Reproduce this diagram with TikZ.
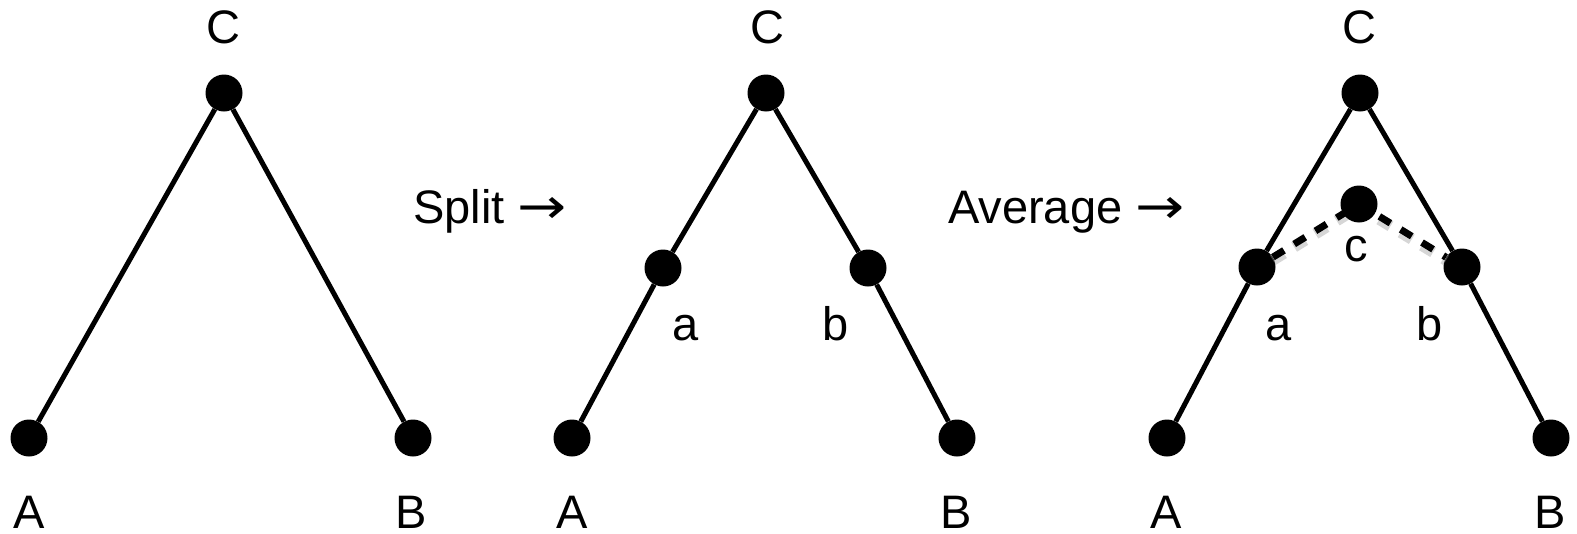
\documentclass[tikz,border=0pt]{standalone}
\usepackage{fontspec}
\setmainfont{Liberation Sans}
\newfontfamily\arrowfont{DejaVu Sans}
\newcommand{\rarr}{{\arrowfont\raisebox{0pt}{\scalebox{1.25}[1.05]{→}}}}
\begin{document}
\begin{tikzpicture}[x=1pt,y=-1pt,
  dot/.style={circle,fill=black,inner sep=0pt,minimum size=37pt},
  edge/.style={line width=5pt},
  avg/.style={line width=7pt,dash pattern=on 13pt off 12pt},
  shadowline/.style={line width=11pt,dash pattern=on 13pt off 12pt,black!40,opacity=0.4},
  lbl/.style={anchor=base,font=\fontsize{47}{56}\selectfont,inner sep=0pt}]
\useasboundingbox (0,0) rectangle (1577,533);
% tree 1
\node[dot] (C1) at (224,93) {};
\node[dot] (A1) at (29,438) {};
\node[dot] (B1) at (413,438) {};
\draw[edge] (C1) -- (A1);
\draw[edge] (C1) -- (B1);
\node[lbl] (lC1) at (223,43) {C};
\node[lbl] (lA1) at (29,528) {A};
\node[lbl] (lB1) at (411,528) {B};
% split text
\node[lbl,anchor=base west] (split) at (413,223) {Split \rarr};
% tree 2
\node[dot] (C2) at (766,93) {};
\node[dot] (a2) at (663,268) {};
\node[dot] (b2) at (868,268) {};
\node[dot] (A2) at (572,438) {};
\node[dot] (B2) at (957,438) {};
\draw[edge] (C2) -- (a2) -- (A2);
\draw[edge] (C2) -- (b2) -- (B2);
\node[lbl] (lC2) at (767,43) {C};
\node[lbl] (la2) at (686,340) {a};
\node[lbl] (lb2) at (836,340) {b};
\node[lbl] (lA2) at (572,528) {A};
\node[lbl] (lB2) at (956,528) {B};
% average text
\node[lbl,anchor=base west] (average) at (948,223) {Average \rarr};
% tree 3
\node[dot] (C3) at (1360,93) {};
\node[dot] (a3) at (1257,267) {};
\node[dot] (b3) at (1462,267) {};
\node[dot] (A3) at (1167,438) {};
\node[dot] (B3) at (1551,438) {};
\draw[edge] (C3) -- (a3) -- (A3);
\draw[edge] (C3) -- (b3) -- (B3);
\coordinate (cpos) at (1359,204);
\draw[shadowline,transform canvas={yshift=-3pt}] (a3) -- (cpos) -- (b3);
\draw[avg] (a3) -- (cpos) -- (b3);
\node[dot] (c3) at (cpos) {};
\node[lbl] (lC3) at (1359,43) {C};
\node[lbl] (la3) at (1279,340) {a};
\node[lbl] (lb3) at (1430,340) {b};
\node[lbl] (lc3) at (1356,261) {c};
\node[lbl] (lA3) at (1166,528) {A};
\node[lbl] (lB3) at (1550,528) {B};
\end{tikzpicture}
\end{document}
